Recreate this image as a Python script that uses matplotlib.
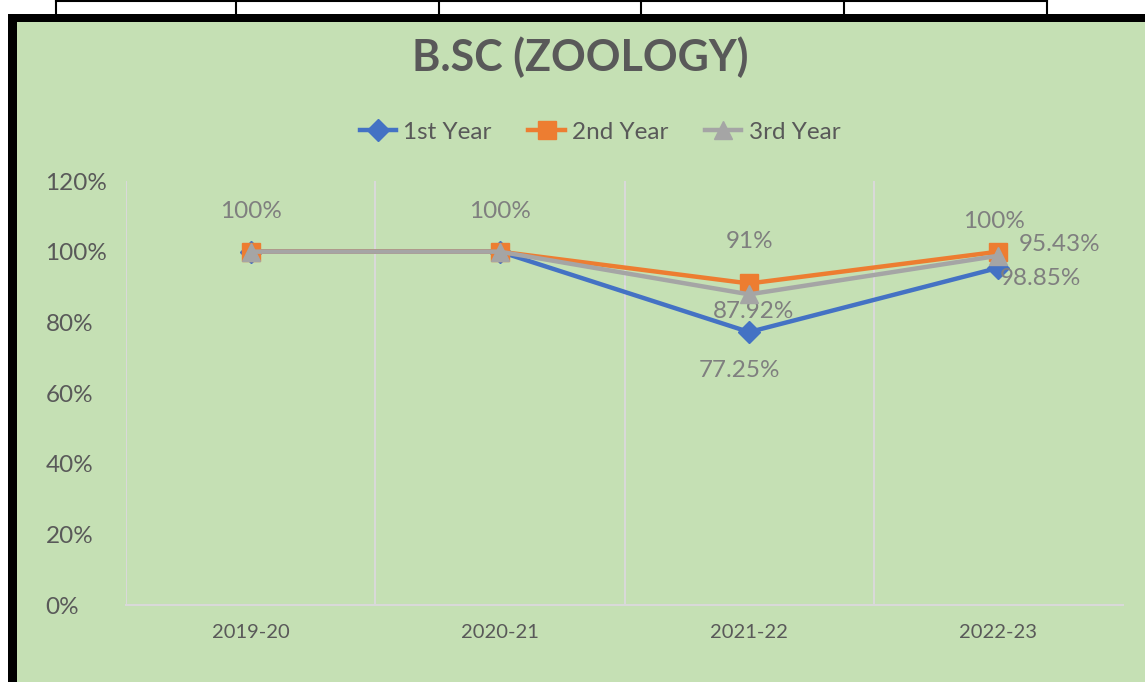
import numpy as np
import matplotlib
matplotlib.use("Agg")
import matplotlib.pyplot as plt
from matplotlib.patches import Rectangle
from matplotlib.lines import Line2D

plt.rcParams['font.family'] = ['Lato', 'DejaVu Sans']

# data
years = ['2019-20', '2020-21', '2021-22', '2022-23']
first_year = [100, 100, 77.25, 95.43]
second_year = [100, 100, 91, 100]
third_year = [100, 100, 87.92, 98.85]
y_ticks = [0, 20, 40, 60, 80, 100, 120]

W, H = 1145, 682
fig = plt.figure(figsize=(W / 100, H / 100), dpi=100)
fig.patch.set_facecolor('white')


def fx(px):
    return px / W


def fy(py):
    return 1 - py / H


# background / borders (screenshot frame)
fig.patches.append(Rectangle((fx(17), 0), 1 - fx(17), fy(22), transform=fig.transFigure,
                             facecolor='#C5E0B4', edgecolor='none', zorder=-10))
fig.patches.append(Rectangle((fx(8), 0), fx(9), fy(14), transform=fig.transFigure,
                             facecolor='black', edgecolor='none', zorder=-9))
fig.patches.append(Rectangle((fx(8), fy(22)), 1 - fx(8), fy(14) - fy(22), transform=fig.transFigure,
                             facecolor='black', edgecolor='none', zorder=-9))
# table lines above the chart
fig.lines.append(Line2D([fx(56), fx(1047)], [fy(1), fy(1)], transform=fig.transFigure,
                        color='black', lw=1.5, zorder=-9))
for xp in [56, 236, 439, 641, 844, 1047]:
    fig.lines.append(Line2D([fx(xp), fx(xp)], [fy(0), fy(14)], transform=fig.transFigure,
                            color='black', lw=1.5, zorder=-9))

ax = fig.add_axes([fx(126), 1 - 605 / H, fx(1123) - fx(126), (605 - 181) / H])
ax.set_facecolor('none')

x = np.arange(len(years))
ax.plot(x, first_year, color='#4472C4', lw=3.2, marker='D', ms=11, label='1st Year', zorder=3)
ax.plot(x, second_year, color='#ED7D31', lw=3.2, marker='s', ms=13, label='2nd Year', zorder=4)
ax.plot(x, third_year, color='#A5A5A5', lw=3.2, marker='^', ms=13, label='3rd Year', zorder=5)

ax.set_xlim(-0.5, 3.5)
ax.set_ylim(0, 120)
ax.set_xticks(x)
ax.set_xticklabels(years, fontsize=14.5, color='#595959')
ax.set_yticks(y_ticks)
ax.set_yticklabels([f'{v}%' for v in y_ticks], fontsize=17.5, color='#595959', ha='left')
ax.tick_params(axis='y', length=0, pad=58)
ax.tick_params(axis='x', length=0, pad=14)
for s in ['top', 'right', 'left']:
    ax.spines[s].set_visible(False)
ax.spines['bottom'].set_color('#D9D9D9')
ax.spines['bottom'].set_linewidth(1.5)
for gx in [-0.5, 0.5, 1.5, 2.5]:
    ax.axvline(gx, color='#D9D9D9', lw=1.5, zorder=1)

lab_kw = dict(textcoords='offset points', ha='center', va='center', fontsize=17.5, color='#7F7F7F')
k = 72 / 100
# labels (offsets in px converted to points)
ax.annotate('100%', (0, 100), xytext=(0, 40 * k), **lab_kw)
ax.annotate('100%', (1, 100), xytext=(0, 40 * k), **lab_kw)
ax.annotate(f'{second_year[2]:g}%', (2, second_year[2]), xytext=(0, 42 * k), **lab_kw)
ax.annotate(f'{third_year[2]:.2f}%', (2, third_year[2]), xytext=(4 * k, -17 * k), **lab_kw)
ax.annotate(f'{first_year[2]:.2f}%', (2, first_year[2]), xytext=(-10 * k, -38 * k), **lab_kw)
ax.annotate(f'{second_year[3]:g}%', (3, second_year[3]), xytext=(-4 * k, 30 * k), **lab_kw)
ax.annotate(f'{first_year[3]:.2f}%', (3, first_year[3]), xytext=(61 * k, 23 * k), **lab_kw)
ax.annotate(f'{third_year[3]:.2f}%', (3, third_year[3]), xytext=(42 * k, -23 * k), **lab_kw)

fig.text(fx(580), fy(57), 'B.SC (ZOOLOGY)', ha='center', va='center',
         fontsize=31, fontweight='bold', color='#595959')

leg = fig.legend(loc='center', bbox_to_anchor=(fx(600), fy(132)), ncol=3, frameon=False,
                 fontsize=17.5, handlelength=1.5, handletextpad=0.3, columnspacing=1.5)
for t in leg.get_texts():
    t.set_color('#595959')

fig.savefig('out.png', dpi=100)
